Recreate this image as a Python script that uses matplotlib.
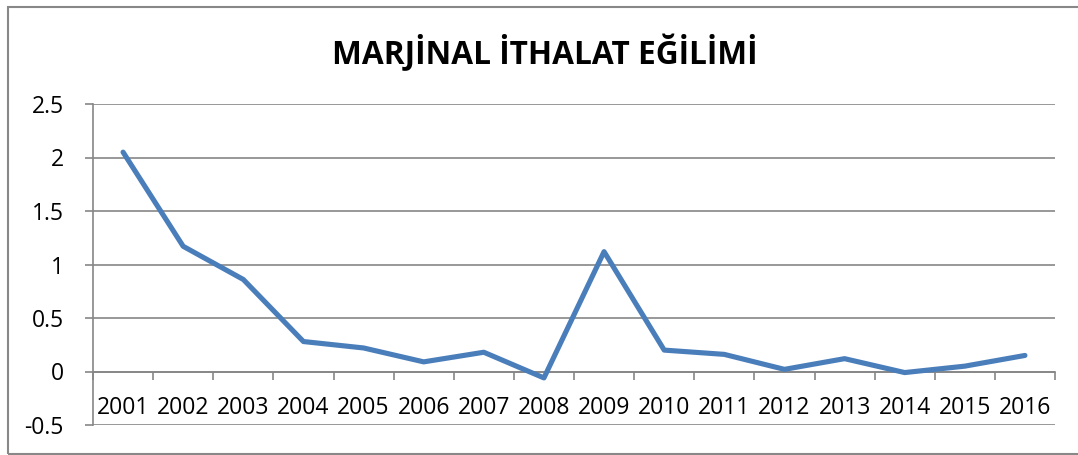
import matplotlib.pyplot as plt
from matplotlib.patches import Rectangle
import numpy as np

# Marjinal ithalat eğilimi, yıllara göre
years = ['2001', '2002', '2003', '2004', '2005', '2006', '2007', '2008',
         '2009', '2010', '2011', '2012', '2013', '2014', '2015', '2016']
values = [2.05, 1.17, 0.86, 0.28, 0.22, 0.09, 0.18, -0.06,
          1.12, 0.20, 0.16, 0.02, 0.12, -0.01, 0.05, 0.15]

plt.rcParams['font.family'] = ['Open Sans', 'DejaVu Sans']

fig = plt.figure(figsize=(10.78, 4.55), dpi=100)
ax = fig.add_axes([93/1078, 30/455, 962/1078, 321/455])

x = np.arange(len(years))
ax.plot(x, values, color='#4a7ebb', lw=3.7, solid_capstyle='round', zorder=3)

grid_c = '#868686'
ax.set_ylim(-0.5, 2.5)
ax.set_xlim(-0.5, len(years) - 0.5)
ax.set_yticks(np.arange(-0.5, 2.51, 0.5))
ax.set_yticklabels(['-0.5', '0', '0.5', '1', '1.5', '2', '2.5'])
ax.yaxis.grid(True, color=grid_c, lw=1.2)
ax.set_axisbelow(True)

# x ekseni sıfırda, etiketler altında
ax.spines['bottom'].set_position(('data', 0))
ax.spines['bottom'].set_color(grid_c)
ax.spines['bottom'].set_linewidth(1.2)
ax.spines['left'].set_color(grid_c)
ax.spines['left'].set_linewidth(1.2)
ax.spines['top'].set_visible(False)
ax.spines['right'].set_visible(False)

ax.set_xticks(np.arange(-0.5, len(years), 1.0))
ax.set_xticklabels([])
ax.set_xticks(x, minor=True)
ax.set_xticklabels(years, minor=True, fontsize=16.5)
ax.tick_params(axis='x', which='major', direction='out', length=6, width=1.2, color=grid_c)
ax.tick_params(axis='x', which='minor', length=0, pad=18)
ax.tick_params(axis='y', direction='out', length=6, width=1.2, color=grid_c,
               labelsize=16.5, pad=15)

fig.text(0.505, 0.883, 'MARJİNAL İTHALAT EĞİLİMİ', ha='center', va='center',
         fontsize=22.8, fontweight='bold')

fig.patches.append(Rectangle((8/1078, 1/455), 1.0, 447/455, transform=fig.transFigure,
                             fill=False, edgecolor='#888888', lw=1.5))

fig.savefig('out.png', dpi=100)
